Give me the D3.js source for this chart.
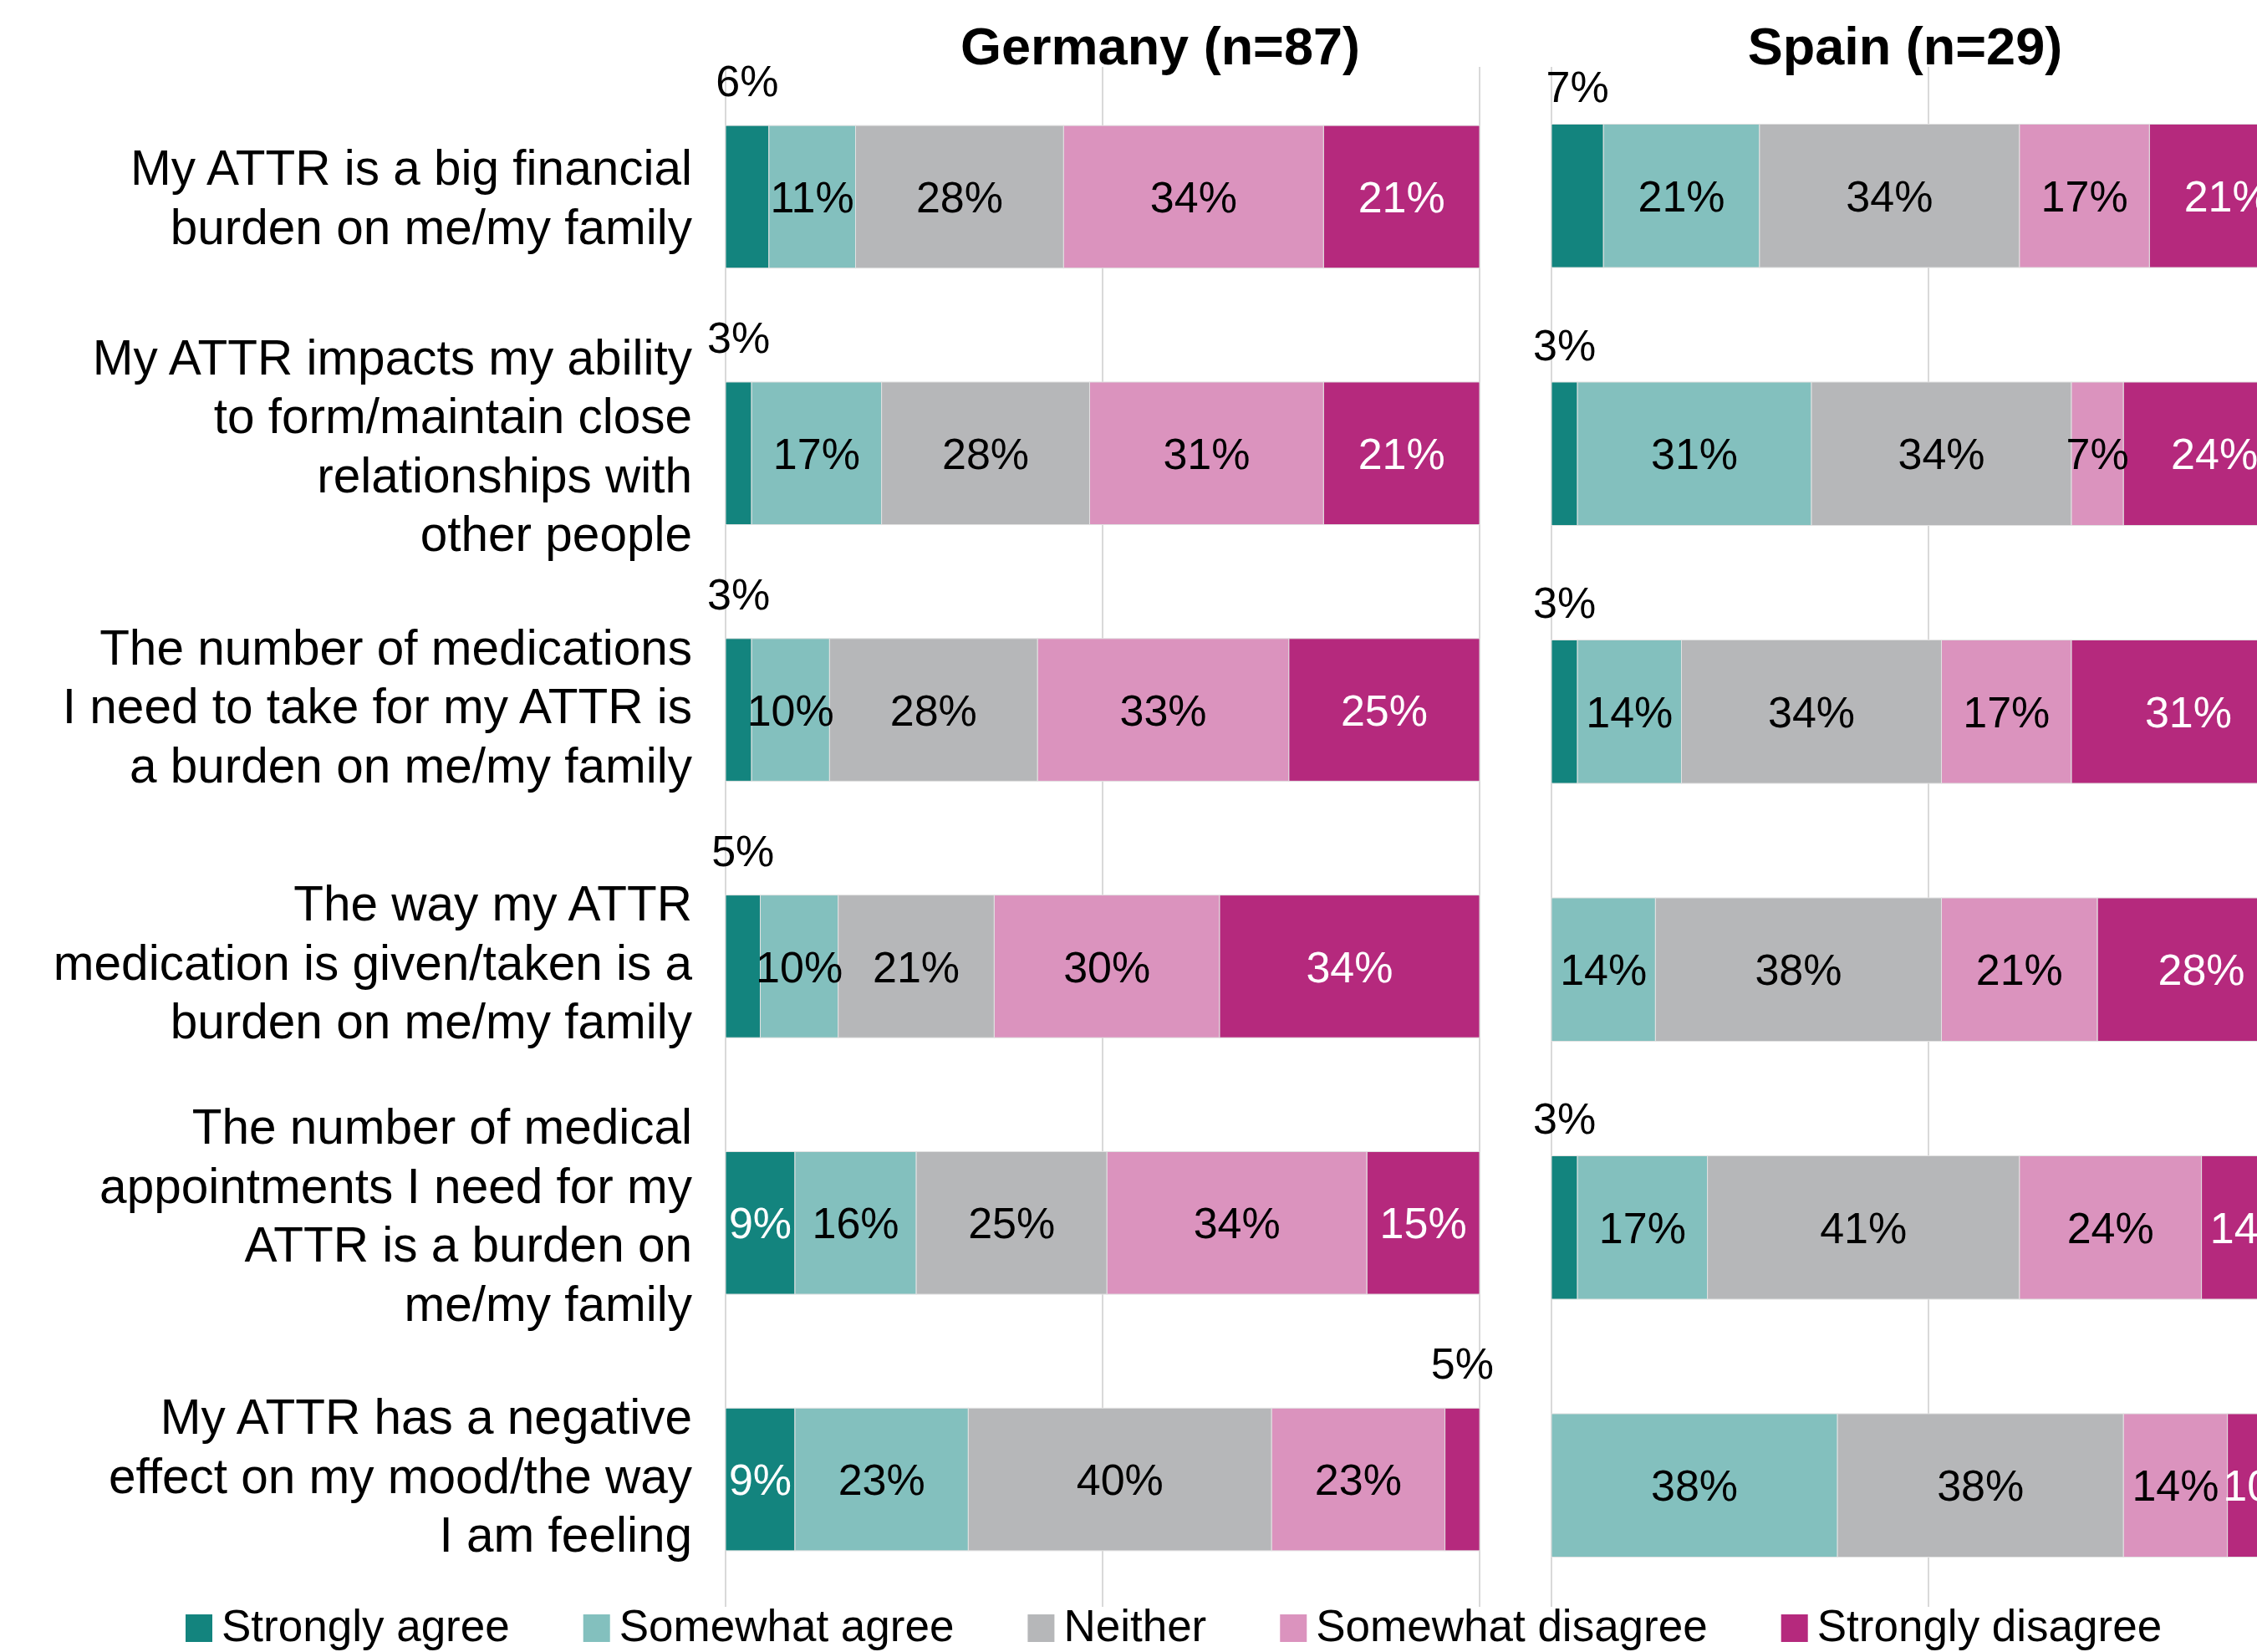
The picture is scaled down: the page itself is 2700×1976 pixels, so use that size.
<!DOCTYPE html>
<html>
<head>
<meta charset="utf-8">
<script src="https://cdn.jsdelivr.net/npm/d3@7"></script>
<style>
  body { margin: 0; background: #fff; }
  #chart { width: 2700px; height: 1976px; overflow: hidden; }
  text { font-family: "Liberation Sans", Arial, sans-serif; }
</style>
</head>
<body>
<div id="chart"></div>
<script>
// Statements (one entry per row, already split into lines as in the slide)
const statements = [
  ['My ATTR is a big financial', 'burden on me/my family'],
  ['My ATTR impacts my ability', 'to form/maintain close', 'relationships with', 'other people'],
  ['The number of medications', 'I need to take for my ATTR is', 'a burden on me/my family'],
  ['The way my ATTR', 'medication is given/taken is a', 'burden on me/my family'],
  ['The number of medical', 'appointments I need for my', 'ATTR is a burden on', 'me/my family'],
  ['My ATTR has a negative', 'effect on my mood/the way', 'I am feeling'],
];

const responses = ['Strongly agree', 'Somewhat agree', 'Neither', 'Somewhat disagree', 'Strongly disagree'];
const responseColors = ['#13847e', '#83c0be', '#b6b7b9', '#db93be', '#b5297d'];
const labelColors = ['#ffffff', '#000000', '#000000', '#000000', '#ffffff'];

const panelTitles = ['Germany (n=87)', 'Spain (n=29)'];

// % of respondents per response, row order = statements
const germanyValues = [
  [5.75, 11.49, 27.59, 34.48, 20.69],
  [3.45, 17.24, 27.59, 31.03, 20.69],
  [3.45, 10.34, 27.59, 33.33, 25.29],
  [4.60, 10.34, 20.69, 29.89, 34.48],
  [9.20, 16.09, 25.29, 34.48, 14.94],
  [9.20, 22.99, 40.23, 22.99, 4.60],
];

const spainValues = [
  [6.90, 20.69, 34.48, 17.24, 20.69],
  [3.45, 31.03, 34.48, 6.90, 24.14],
  [3.45, 13.79, 34.48, 17.24, 31.03],
  [0, 13.79, 37.93, 20.69, 27.59],
  [3.45, 17.24, 41.38, 24.14, 13.79],
  [0, 37.93, 37.93, 13.79, 10.34],
];

const gridTicks = [0, 50, 100];

class StackedPanel {
  constructor(svg, cfg) {
    this.svg = svg;
    this.cfg = cfg;
    this.init();
    this.render();
  }

  init() {
    const vis = this;
    const c = vis.cfg;
    console.log(vis.constructor.name, 'initializing', c.title);

    vis.g = vis.svg.append('g').attr('class', 'panel');

    vis.xScale = d3.scaleLinear()
      .domain([0, 100])
      .range([c.x0, c.x1]);

    vis.yScale = d3.scaleBand()
      .domain(d3.range(c.values.length))
      .range([c.y0, c.y1])
      .paddingInner(0.444)
      .paddingOuter(0.222);

    // gridlines first so they sit behind the bars
    vis.g.selectAll('.grid')
      .data(gridTicks)
      .enter()
      .append('line')
      .attr('class', 'grid')
      .attr('x1', (d) => vis.xScale(d))
      .attr('x2', (d) => vis.xScale(d))
      .attr('y1', 80)
      .attr('y2', 1922)
      .attr('stroke', '#d9d9d9')
      .attr('stroke-width', 2);

    vis.g.append('text')
      .attr('x', c.titleX)
      .attr('y', 77)
      .attr('text-anchor', 'middle')
      .style('font-size', '63px')
      .style('font-weight', 'bold')
      .text(c.title);
  }

  render() {
    const vis = this;
    console.log(vis.constructor.name, 'rendering');

    // flatten into segments with start/end
    const segments = [];
    vis.cfg.values.forEach((row, r) => {
      let acc = 0;
      row.forEach((v, k) => {
        segments.push({ row: r, k, v, start: acc, end: acc + v, last: k === row.length - 1 });
        acc += v;
      });
    });

    const bh = vis.yScale.bandwidth();

    vis.g.selectAll('.seg')
      .data(segments.filter((d) => d.v > 0))
      .enter()
      .append('rect')
      .attr('class', 'seg')
      .attr('x', (d) => vis.xScale(d.start))
      .attr('y', (d) => vis.yScale(d.row))
      .attr('width', (d) => vis.xScale(d.end) - vis.xScale(d.start))
      .attr('height', bh)
      .attr('fill', (d) => responseColors[d.k])
      .attr('stroke', '#e2e2e2')
      .attr('stroke-width', 1);

    // small end segments get their label above the bar
    const isAbove = (d) => (d.k === 0 && d.v < 8) || (d.last && d.v < 6);

    vis.g.selectAll('.val')
      .data(segments.filter((d) => d.v > 0))
      .enter()
      .append('text')
      .attr('class', 'val')
      .attr('x', (d) => (vis.xScale(d.start) + vis.xScale(d.end)) / 2)
      .attr('y', (d) => (isAbove(d)
        ? vis.yScale(d.row) - vis.cfg.aboveGap
        : vis.yScale(d.row) + bh / 2))
      .attr('dy', (d) => (isAbove(d) ? 0 : '0.36em'))
      .attr('text-anchor', 'middle')
      .style('font-size', '52px')
      .style('fill', (d) => (isAbove(d) ? '#000' : labelColors[d.k]))
      .text((d) => `${Math.round(d.v)}%`);
  }
}

const svg = d3.select('#chart')
  .append('svg')
  .attr('width', 2700)
  .attr('height', 1976);

const germany = new StackedPanel(svg, {
  title: panelTitles[0], values: germanyValues,
  x0: 868, x1: 1770, y0: 82, y1: 1923, titleX: 1388, aboveGap: 35,
});
const spain = new StackedPanel(svg, {
  title: panelTitles[1], values: spainValues,
  x0: 1856, x1: 2758, y0: 80, y1: 1931, titleX: 2279, aboveGap: 26,
});

// statement labels, right aligned and centred on Germany's rows
const lineStep = 70.5;
const labels = svg.append('g').attr('class', 'statements');
statements.forEach((lines, r) => {
  // taller text blocks sit a little higher in the original
  const cy = germany.yScale(r) + germany.yScale.bandwidth() / 2 - (lines.length - 2) * 5;
  const t = labels.append('text')
    .attr('text-anchor', 'end')
    .style('font-size', '58.5px');
  lines.forEach((line, i) => {
    t.append('tspan')
      .attr('x', 828)
      .attr('y', cy + (i - (lines.length - 1) / 2) * lineStep)
      .attr('dy', '0.36em')
      .text(line);
  });
});

// legend along the bottom, laid out from measured text widths
const legend = svg.append('g').attr('class', 'legend');
let lx = 222;
responses.forEach((name, i) => {
  legend.append('rect')
    .attr('x', lx)
    .attr('y', 1931)
    .attr('width', 32)
    .attr('height', 33)
    .attr('fill', responseColors[i]);
  const txt = legend.append('text')
    .attr('x', lx + 43)
    .attr('y', 1963)
    .style('font-size', '53px')
    .text(name);
  lx += 43 + txt.node().getComputedTextLength() + 88;
});
</script>
</body>
</html>
